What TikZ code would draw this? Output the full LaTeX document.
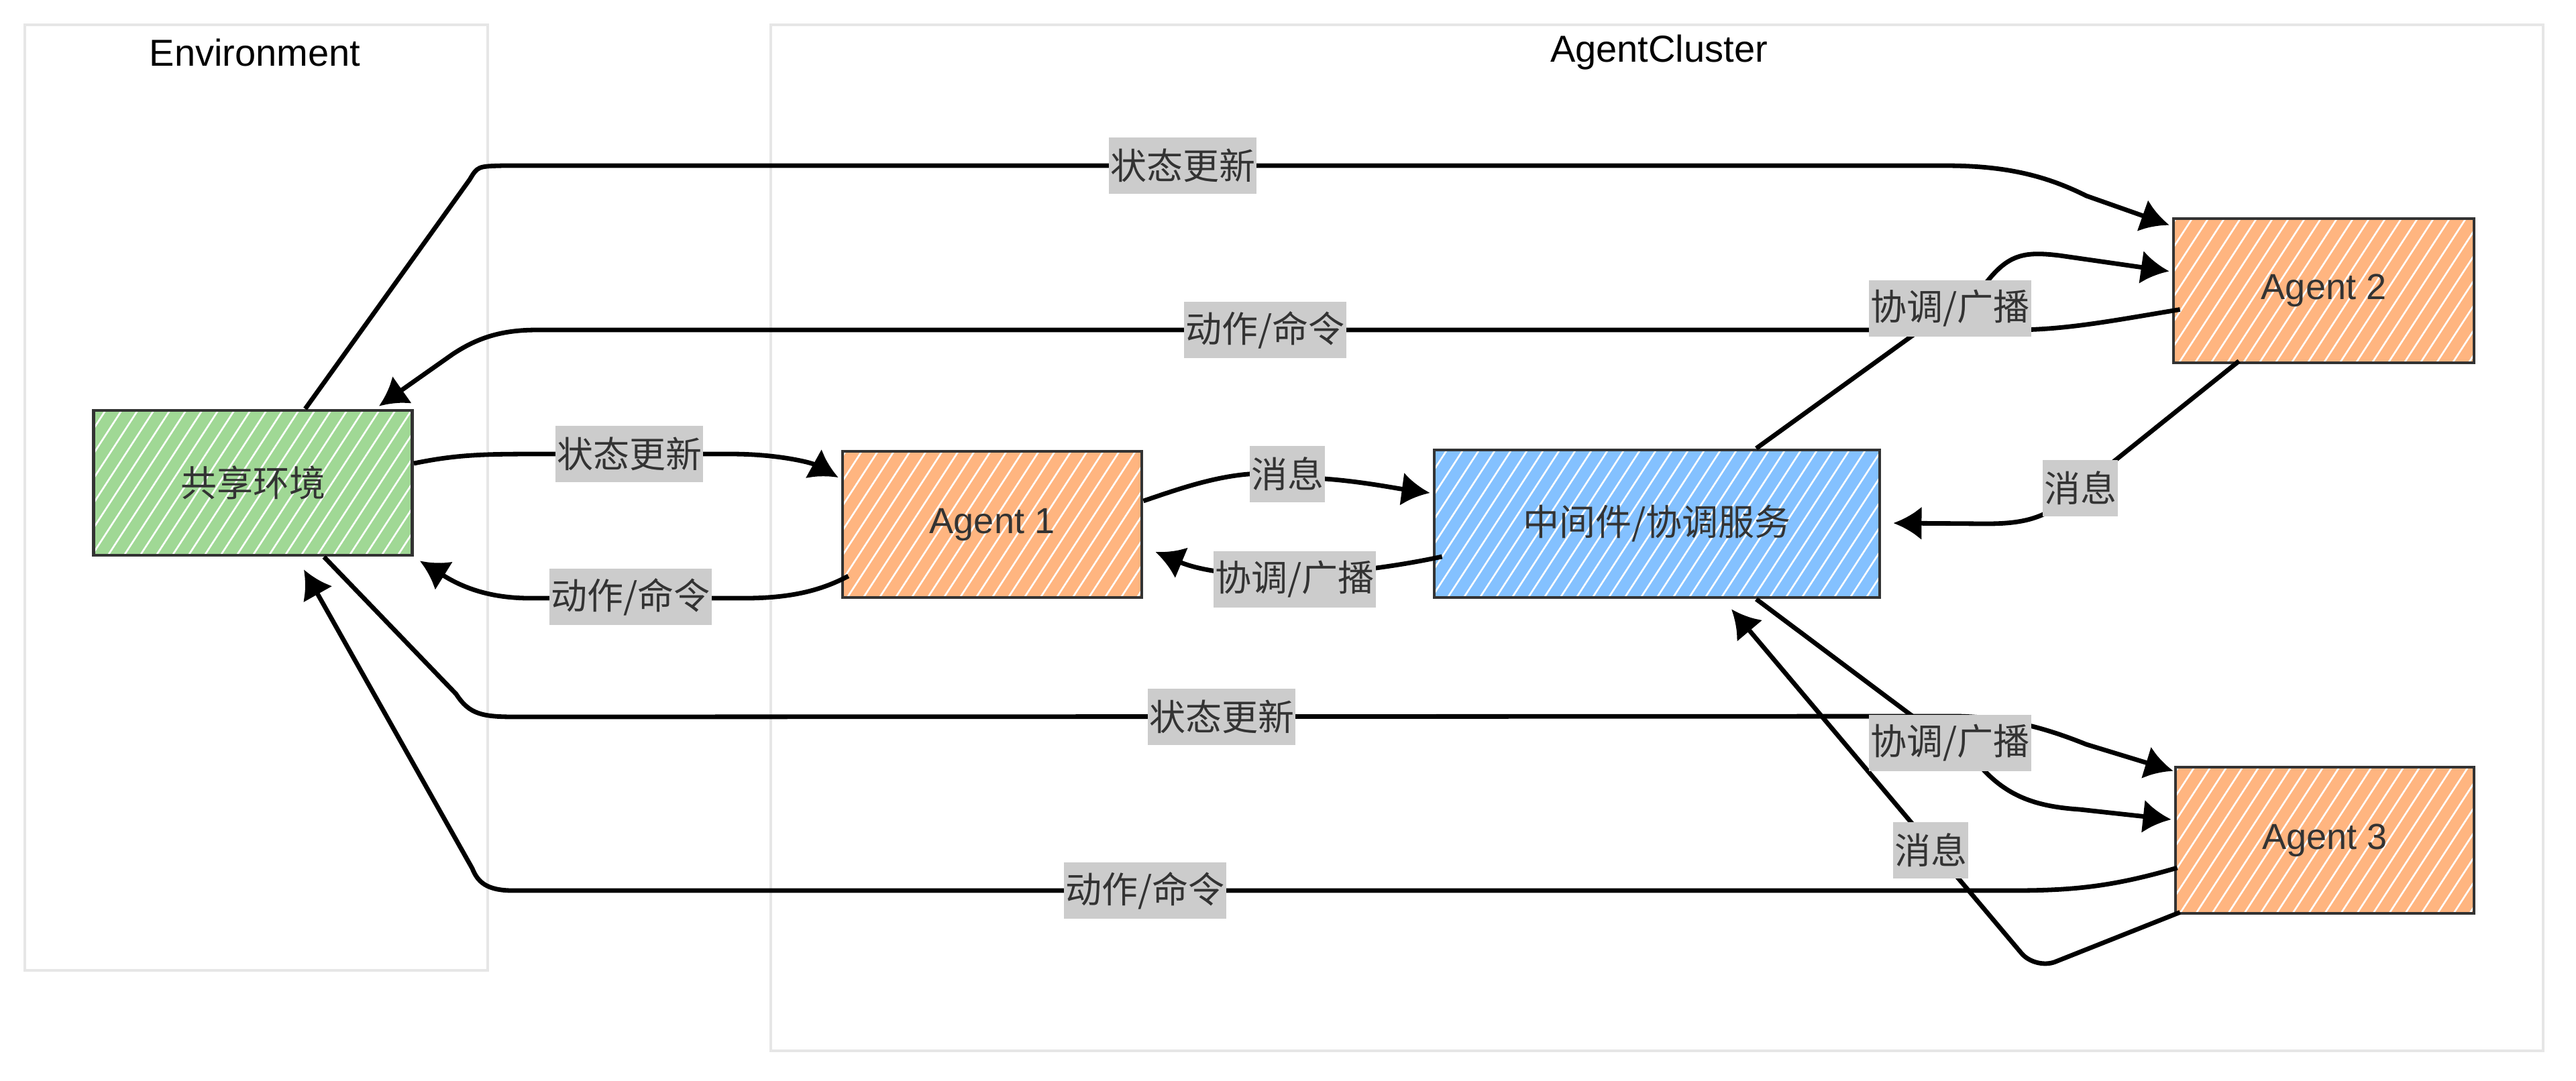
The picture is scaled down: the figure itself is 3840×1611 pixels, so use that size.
\documentclass[tikz,border=0pt]{standalone}
\usepackage{fontspec}
\setmainfont{Liberation Sans}
\newfontfamily\cjk{Noto Sans CJK SC}
\usetikzlibrary{arrows.meta,calc}
\definecolor{envgreen}{HTML}{A0D895}
\definecolor{agorange}{HTML}{FFB580}
\definecolor{mwblue}{HTML}{84C1FF}
\definecolor{lblgray}{HTML}{CCCCCC}
\definecolor{txtdark}{HTML}{333333}
\definecolor{framegray}{HTML}{E6E6E6}
\definecolor{borderdark}{HTML}{333333}
\tikzset{
  hatch/.style={path picture={\foreach \i in {-24,...,22}{\draw[white,line width=0.65pt] ([xshift=\i*6pt]path picture bounding box.south) -- ++(57:90pt);}}},
  box/.style={draw=borderdark, line width=1.2pt, hatch, text=txtdark, font=\fontsize{13.5}{16}\selectfont, inner sep=0pt},
  envbox/.style={box, fill=envgreen, minimum width=118.75pt, minimum height=54pt},
  agbox/.style={box, fill=agorange, minimum width=111.5pt, minimum height=54.5pt},
  mwbox/.style={box, fill=mwblue, minimum width=166pt, minimum height=55pt},
  lbl/.style={fill=lblgray, text=txtdark, font=\cjk\fontsize{13.5}{16}\selectfont, inner xsep=0.6pt, inner ysep=0pt, minimum height=21pt},
  conn/.style={draw=black, line width=1.7pt, line join=round, -{Latex[length=10.5pt,width=12.5pt]}},
  frame/.style={draw=framegray, line width=1pt},
  ttl/.style={font=\fontsize{14}{16}\selectfont, text=black}
}
\begin{document}
\begin{tikzpicture}[x=0.25pt, y=-0.25pt]
\useasboundingbox (0,0) rectangle (3840,1611);
\fill[white] (0,0) rectangle (3840,1611);
% frames
\draw[frame] (37,37) rectangle (727,1447);
\draw[frame] (1149,37) rectangle (3791,1567);
\node[ttl] (tenv) at (380,78) {Environment};
\node[ttl] (tcl) at (2473,78) {AgentCluster};
% nodes
\node[envbox] (env) at (377,720) {\cjk 共享环境};
\node[agbox] (a1) at (1479,782) {Agent 1};
\node[mwbox] (mw) at (2470,781) {\cjk 中间件/协调服务};
\node[agbox, minimum width=112pt, minimum height=53.75pt] (a2) at (3464,433.5) {Agent 2};
\node[agbox, minimum width=111.25pt] (a3) at (3465.5,1253) {Agent 3};
% connectors
\draw[conn] ($(env.north)+(78,0)$) -- (700,268) .. controls (712,248) .. (750,247) -- (2900,247) .. controls (2990,247) and (3050,262) .. (3110,292) -- ($(a2.north west)+(-4,12)$);
\draw[conn] ($(a2.west)+(12,28)$) .. controls (3150,478) and (3080,492) .. (3000,492) -- (800,492) .. controls (745,492) and (710,505) .. (675,528) -- ($(env.north east)+(-52,-4)$);
\draw[conn] ($(env.east)+(0,-29)$) .. controls (680,678) and (720,677) .. (800,677) -- (1090,677) .. controls (1160,677) and (1210,690) .. ($(a1.west)+(-4,-70)$);
\draw[conn] ($(a1.west)+(11,77)$) .. controls (1225,880) and (1180,892) .. (1110,892) -- (790,892) .. controls (720,892) and (680,870) .. ($(env.south east)+(9,6)$);
\draw[conn] ($(a1.east)+(0,-35)$) .. controls (1760,728) and (1820,707) .. (1880,706) -- (1975,714) .. controls (2030,718) and (2080,728) .. ($(mw.west)+(-4,-46)$);
\draw[conn] ($(mw.west)+(14,49)$) .. controls (2000,862) and (1830,868) .. ($(a1.east)+(18,41)$);
\draw[conn] ($(a2.south west)+(100,-5)$) -- (3080,745) .. controls (3045,775) and (3010,781) .. (2960,781) -- ($(mw.east)+(18,-1)$);
\draw[conn] ($(mw.north)+(148,0)$) -- (2962,420) .. controls (2995,378) and (3020,375) .. (3070,381) -- ($(a2.west)+(-4,-29)$);
\draw[conn] ($(mw.south)+(148,0)$) -- (2955,1146) .. controls (2995,1190) and (3040,1203) .. (3100,1207) -- ($(a3.west)+(-4,-31)$);
\draw[conn] ($(env.south)+(106,0)$) -- (680,1035) .. controls (700,1066) and (720,1069) .. (770,1069) -- (2920,1068) .. controls (3000,1070) and (3060,1090) .. (3110,1110) -- ($(a3.north west)+(-1,8)$);
\draw[conn] ($(a3.west)+(5,41)$) .. controls (3150,1322) and (3090,1328) .. (3000,1328) -- (765,1328) .. controls (725,1328) and (712,1315) .. (704,1295) -- ($(env.south)+(76,19)$);
\draw[conn, rounded corners=8] ($(a3.south west)+(9,-4)$) -- (3034,1446) -- ($(mw.south)+(111,15)$);
% labels
\node[lbl] (l1) at (1763,247) {状态更新};
\node[lbl] (l2) at (1886,492) {动作/命令};
\node[lbl] (l3) at (938,677) {状态更新};
\node[lbl] (l4) at (940,890) {动作/命令};
\node[lbl] (l5) at (1919,707) {消息};
\node[lbl] (l6) at (1930,864) {协调/广播};
\node[lbl] (l7) at (3101,728) {消息};
\node[lbl] (l8) at (2907,460) {协调/广播};
\node[lbl] (l9) at (2907,1108) {协调/广播};
\node[lbl] (l10) at (1821,1069) {状态更新};
\node[lbl] (l11) at (1707,1328) {动作/命令};
\node[lbl] (l12) at (2878,1268) {消息};
\end{tikzpicture}
\end{document}
